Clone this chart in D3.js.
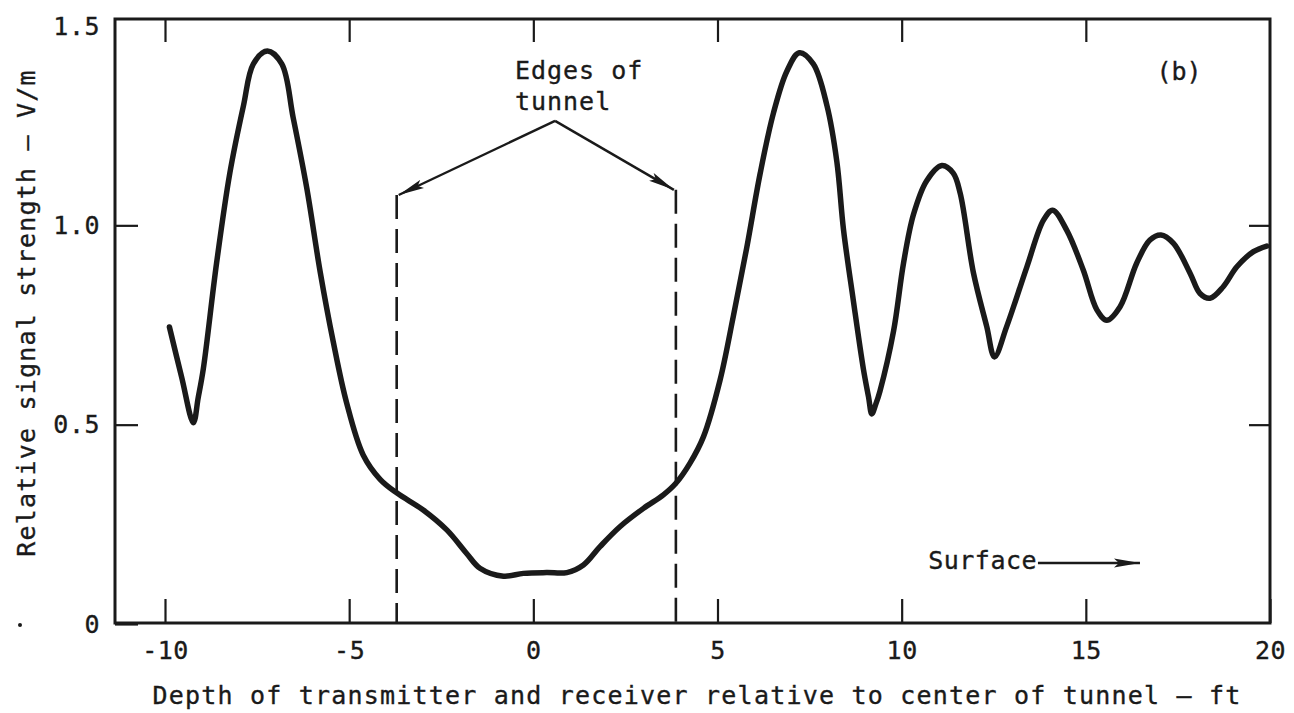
<!DOCTYPE html>
<html>
<head>
<meta charset="utf-8">
<script src="https://cdn.jsdelivr.net/npm/d3@7"></script>
<style>
  html, body { margin: 0; padding: 0; background: #fff; }
  svg text { font-family: "DejaVu Sans Mono", "Liberation Mono", monospace; fill: #1a1a1a; stroke: #1a1a1a; stroke-width: 0.35px; }
</style>
</head>
<body>
<svg id="chart" width="1294" height="713"></svg>
<script>
// ---- data ----
const depthFt = [-9.88, -9.55, -9.23, -9.10, -8.96, -8.60, -8.24, -7.87, -7.60, -7.22, -6.83, -6.52, -6.15, -5.79, -5.43, -5.07,
  -4.62, -4.16, -3.71, -2.99, -2.35, -1.81, -1.45, -0.81, -0.27, 0.36, 0.91, 1.36, 1.81, 2.35, 2.99, 3.53, 3.87,
  4.25, 4.62, 5.07, 5.43, 5.79, 6.16, 6.52, 6.88, 7.22, 7.60, 7.97, 8.24, 8.42, 8.69, 8.96, 9.10, 9.19, 9.30, 9.41, 9.78,
  10.05, 10.32, 10.68, 11.09, 11.40, 11.59, 11.95, 12.31, 12.52, 12.85, 13.40, 13.85, 14.10, 14.48, 14.93, 15.30,
  15.57, 15.93, 16.38, 16.74, 17.04, 17.38, 17.83, 18.10, 18.37, 18.73, 19.10, 19.55, 19.91];
const signalVm = [0.745, 0.620, 0.505, 0.567, 0.640, 0.905, 1.131, 1.300, 1.405, 1.437, 1.405, 1.270, 1.093, 0.885, 0.707, 0.555,
  0.424, 0.363, 0.329, 0.286, 0.236, 0.177, 0.140, 0.120, 0.127, 0.129, 0.129, 0.148, 0.194, 0.244, 0.290, 0.324, 0.353,
  0.403, 0.470, 0.612, 0.772, 0.942, 1.131, 1.282, 1.386, 1.433, 1.405, 1.301, 1.160, 0.990, 0.810, 0.640, 0.570, 0.527, 0.552, 0.584, 0.735,
  0.905, 1.027, 1.112, 1.150, 1.131, 1.080, 0.880, 0.746, 0.670, 0.746, 0.896, 1.013, 1.038, 0.988, 0.888, 0.788,
  0.762, 0.796, 0.905, 0.963, 0.976, 0.955, 0.880, 0.829, 0.817, 0.846, 0.896, 0.934, 0.948];

const xTicks = [-10, -5, 0, 5, 10, 15, 20];
const xTickLabels = ["-10", "-5", "0", "5", "10", "15", "20"];
const yTicks = [0, 0.5, 1.0, 1.5];
const yTickLabels = ["0", "0.5", "1.0", "1.5"];
const tunnelEdges = [-3.71, 3.87];

const xTitle = "Depth of transmitter and receiver relative to center of tunnel \u2014 ft";
const yTitle = "Relative signal strength \u2014 V/m";
const panelLabel = "(b)";
const edgeLabel = ["Edges of", "tunnel"];
const surfaceLabel = "Surface";

(function draw() {
  const svg = d3.select("#chart");
  const ink = "#1a1a1a";
  const x = d3.scaleLinear().domain([-10, 20]).range([165, 1270]);
  const y = d3.scaleLinear().domain([0, 1.5]).range([624, 26]);
  const xMin = x.invert(115), yMax = y.invert(19);
  const fL = x(xMin), fR = x(20), fT = y(yMax), fB = y(0) - 1;

  const fs = 25;
  function styleAxis(g) {
    g.select(".domain").remove();
    g.selectAll(".tick line").attr("stroke", ink).attr("stroke-width", 2.2);
    g.selectAll(".tick text").attr("fill", ink).attr("font-family", null)
      .style("font-size", fs + "px").style("letter-spacing", "0.5px");
  }
  svg.append("g").attr("transform", `translate(0,${fB})`)
    .call(d3.axisBottom(x).tickValues(xTicks).tickFormat((d, i) => xTickLabels[i]).tickSizeInner(-24).tickSizeOuter(0).tickPadding(18))
    .call(styleAxis);
  svg.append("g").attr("transform", `translate(0,${fT})`)
    .call(d3.axisTop(x).tickValues(xTicks.slice(0, -1)).tickFormat("").tickSizeInner(-23).tickSizeOuter(0))
    .call(styleAxis);
  svg.append("g").attr("transform", `translate(${fL},0)`)
    .call(d3.axisLeft(y).tickValues(yTicks).tickFormat((d, i) => yTickLabels[i]).tickSizeInner(-23).tickSizeOuter(0).tickPadding(15))
    .call(styleAxis)
    .call(g => g.selectAll(".tick").filter(d => d === 1.5).select("line").remove());
  svg.append("g").attr("transform", `translate(${fR},0)`)
    .call(d3.axisRight(y).tickValues([0.5, 1.0]).tickFormat("").tickSizeInner(-21).tickSizeOuter(0))
    .call(styleAxis);

  svg.append("rect").attr("x", fL).attr("y", fT).attr("width", fR - fL).attr("height", fB - fT)
    .attr("fill", "none").attr("stroke", ink).attr("stroke-width", 3);

  const edgeTops = [1.076, 1.089];
  svg.selectAll(".edge").data(tunnelEdges).enter().append("line").attr("class", "edge")
    .attr("x1", d => x(d)).attr("x2", d => x(d))
    .attr("y1", (d, i) => y(edgeTops[i])).attr("y2", fB)
    .attr("stroke", ink).attr("stroke-width", 2.6).attr("stroke-dasharray", "24,10");

  const pts = depthFt.map((d, i) => [d, signalVm[i]]);
  svg.append("path").datum(pts)
    .attr("d", d3.line().x(d => x(d[0])).y(d => y(d[1])).curve(d3.curveCatmullRom.alpha(0.5)))
    .attr("fill", "none").attr("stroke", ink).attr("stroke-width", 5.5)
    .attr("stroke-linejoin", "round").attr("stroke-linecap", "round");

  const defs = svg.append("defs");
  defs.append("marker").attr("id", "ah").attr("viewBox", "0 0 26 10").attr("refX", 26).attr("refY", 5)
    .attr("markerWidth", 26).attr("markerHeight", 10).attr("markerUnits", "userSpaceOnUse").attr("orient", "auto")
    .append("path").attr("d", "M0,0.5 L26,5 L0,9.5 L5,5 Z").attr("fill", ink);

  const apex = [0.59, 1.262];
  svg.append("text").attr("x", x(-0.50)).attr("y", y(1.367)).style("font-size", fs + "px").style("letter-spacing", "1px").text(edgeLabel[0]);
  svg.append("text").attr("x", x(-0.50)).attr("y", y(1.289)).style("font-size", fs + "px").style("letter-spacing", "1px").text(edgeLabel[1]);
  tunnelEdges.forEach((e, i) => {
    svg.append("line").attr("x1", x(apex[0])).attr("y1", y(apex[1]))
      .attr("x2", x(e) + (i === 0 ? 2 : -2)).attr("y2", y(edgeTops[i]))
      .attr("stroke", ink).attr("stroke-width", 2.4).attr("marker-end", "url(#ah)");
  });

  svg.append("text").attr("x", x(17.53)).attr("y", y(1.364)).attr("text-anchor", "middle")
    .style("font-size", fs + "px").text(panelLabel);

  svg.append("text").attr("x", x(10.72)).attr("y", y(0.138)).style("font-size", fs + "px").style("letter-spacing", "0.5px").text(surfaceLabel);
  svg.append("line").attr("x1", x(13.70)).attr("y1", y(0.153)).attr("x2", x(16.47)).attr("y2", y(0.153))
    .attr("stroke", ink).attr("stroke-width", 2.4).attr("marker-end", "url(#ah)");

  svg.append("text").attr("x", 697).attr("y", 704).attr("text-anchor", "middle")
    .style("font-size", fs + "px").style("letter-spacing", "1.2px").text(xTitle);
  svg.append("text").attr("transform", "translate(35,313) rotate(-90)").attr("text-anchor", "middle")
    .style("font-size", fs + "px").style("letter-spacing", "1.2px").text(yTitle);

  svg.append("circle").attr("cx", 20).attr("cy", 625).attr("r", 2).attr("fill", ink);
})();
</script>
</body>
</html>
